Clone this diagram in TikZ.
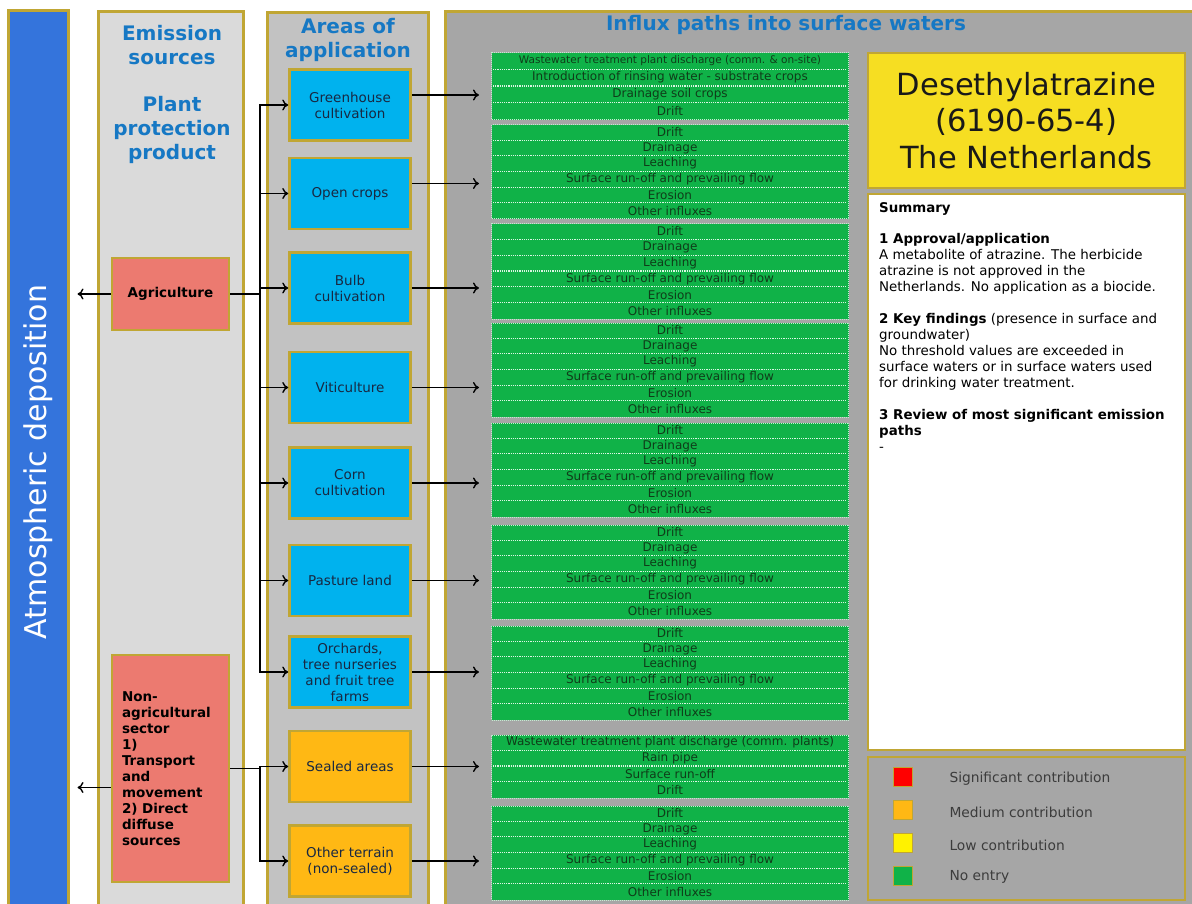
\documentclass[tikz,border=0pt]{standalone}
\usepackage{fontspec}
\setmainfont{DejaVu Sans}
\usetikzlibrary{calc,positioning,arrows.meta}

\definecolor{frame}{RGB}{192,166,52}
\definecolor{atmblue}{RGB}{52,116,220}
\definecolor{headblue}{RGB}{22,120,196}
\definecolor{srcgray}{RGB}{218,218,218}
\definecolor{appgray}{RGB}{194,194,194}
\definecolor{fluxgray}{RGB}{166,166,166}
\definecolor{salmon}{RGB}{236,122,112}
\definecolor{cropblue}{RGB}{0,178,238}
\definecolor{sealorange}{RGB}{255,184,20}
\definecolor{noentry}{RGB}{16,178,72}
\definecolor{titleyellow}{RGB}{246,222,34}
\definecolor{navytext}{RGB}{24,40,66}
\definecolor{rowtext}{RGB}{15,60,25}
\definecolor{legtext}{RGB}{60,60,60}

\tikzset{
lane/.style={draw=frame, line width=3pt, minimum height=900}, % the tall background columns
headtxt/.style={text=headblue, align=center, font=\bfseries\fontsize{20}{24}\selectfont},
source/.style={draw=frame, line width=2.5pt, fill=salmon, minimum width=117, font=\bfseries\fontsize{13.5}{16}\selectfont},
areabox/.style={draw=frame, line width=2.5pt, minimum width=121, minimum height=71, align=center, text=navytext, font=\fontsize{13.5}{16}\selectfont},
flowbox/.style={fill=noentry, draw=white!75!noentry, densely dotted, line width=1pt, minimum width=357},
flowtext/.style={text=rowtext, inner sep=0pt, font=\fontsize{12}{13}\selectfont},
rowsep/.style={white!85!noentry, densely dotted, line width=1.2pt},
link/.style={line width=1.4pt},
legsq/.style={draw=frame, line width=1.5pt, minimum size=19, inner sep=0pt},
legtxt/.style={text=legtext, anchor=west, font=\fontsize{13.8}{15}\selectfont},
}

% rows of influx paths
\def\glasspaths{{\fontsize{10.5}{11}\selectfont Wastewater treatment plant discharge (comm. \& on-site)},Introduction of rinsing water - substrate crops,Drainage soil crops,Drift}
\def\landpaths{Drift,Drainage,Leaching,Surface run-off and prevailing flow,Erosion,Other influxes}
\def\sealedpaths{Wastewater treatment plant discharge (comm. plants),Rain pipe,Surface run-off,Drift}

% name, centre y, height, number of rows, rows
\newcommand{\influx}[5]{%
  \node[flowbox, minimum height=#3] (#1) at (670,#2) {};
  \foreach \lbl [count=\i] in #5 {
    \pgfmathsetmacro{\rowh}{#3/#4}
    \ifnum\i>1
      \draw[rowsep] ($(#1.north west)+(2,{(\i-1)*\rowh})$) -- ($(#1.north east)+(-2,{(\i-1)*\rowh})$);
    \fi
    \node[flowtext] at ($(#1.north)+(0,{(\i-0.5)*\rowh})$) {\lbl};
  }
}

\begin{document}
\begin{tikzpicture}[x=1pt,y=-1pt,>={To[length=6pt,width=11pt]}]
    \useasboundingbox (0,0) rectangle (1192,904);
    \clip (0,0) rectangle (1192,904);
    \fill[white] (0,0) rectangle (1192,904);

    % columns
    \node[lane, fill=atmblue, minimum width=60] (atm) at (38,461) {};
    \node[rotate=90, text=white, font=\fontsize{30}{32}\selectfont] (atmtxt) at (38,462) {Atmospheric deposition};
    \node[lane, fill=srcgray, minimum width=145] (src) at (170.5,462) {};
    \node[lane, fill=appgray, minimum width=161] (app) at (347.5,463) {};
    \node[lane, fill=fluxgray, minimum width=755] (flux) at (822.5,462) {};

    \node[headtxt] (srchead) at (172,45) {Emission\\sources};
    \node[headtxt] (ppp) at (172,130) {Plant\\protection\\product};
    \node[headtxt] (apphead) at (348,40) {Areas of\\application};
    \node[headtxt] (fluxhead) at (786,25) {Influx paths into surface waters};

    % emission sources
    \node[source, minimum height=72] (agri) at (170.5,294) {Agriculture};
    \node[source, minimum height=227, text width=97, inner xsep=10, align=left, font=\bfseries\fontsize{13.5}{16}\selectfont] (nonagri) at (170.5,768.5)
        {Non-\\agricultural\\sector\\1)\\Transport\\and\\movement\\2) Direct\\diffuse\\sources};

    % areas of application
    \node[areabox, fill=cropblue] (gh) at (350,105) {Greenhouse\\cultivation};
    \node[areabox, fill=cropblue] (oc) at (350,193.5) {Open crops};
    \node[areabox, fill=cropblue] (bu) at (350,288) {Bulb\\cultivation};
    \node[areabox, fill=cropblue] (vi) at (350,387.5) {Viticulture};
    \node[areabox, fill=cropblue] (co) at (350,483) {Corn\\cultivation};
    \node[areabox, fill=cropblue] (pa) at (350,580.5) {Pasture land};
    \node[areabox, fill=cropblue] (or) at (350,672) {Orchards,\\tree nurseries\\and fruit tree\\farms};
    \node[areabox, fill=sealorange] (se) at (350,766.5) {Sealed areas};
    \node[areabox, fill=sealorange] (ot) at (350,861) {Other terrain\\(non-sealed)};

    % influx paths
    \influx{g1}{86.5}{67}{4}{\glasspaths}
    \influx{g2}{172}{94}{6}{\landpaths}
    \influx{g3}{271.5}{95}{6}{\landpaths}
    \influx{g4}{370}{94}{6}{\landpaths}
    \influx{g5}{470}{94}{6}{\landpaths}
    \influx{g6}{572}{94}{6}{\landpaths}
    \influx{g7}{673}{94}{6}{\landpaths}
    \influx{g8}{766.5}{63}{4}{\sealedpaths}
    \influx{g9}{853}{94}{6}{\landpaths}

    % substance, summary and legend
    \node[draw=frame, line width=2.5pt, fill=titleyellow, minimum width=317, minimum height=135, align=center,
          text=black!90, font=\fontsize{30.5}{36.5}\selectfont] (title) at (1026.5,120.5)
        {Desethylatrazine\\(6190-65-4)\\The Netherlands};
    \node[draw=frame, line width=2pt, fill=white, minimum width=317, minimum height=556] (summary) at (1026.5,472) {};
    \node[anchor=north west, inner sep=0pt, align=left, font=\fontsize{13.4}{16}\selectfont] (sumtxt) at (879,202) {%
        \textbf{Summary}\\[15pt]
        \textbf{1 Approval/application}\\
        A metabolite of atrazine. The herbicide\\
        atrazine is not approved in the\\
        Netherlands. No application as a biocide.\\[16pt]
        \textbf{2 Key findings} (presence in surface and\\
        groundwater)\\
        No threshold values are exceeded in\\
        surface waters or in surface waters used\\
        for drinking water treatment.\\[16pt]
        \textbf{3 Review of most significant emission}\\
        \textbf{paths}\\
        -};
    \node[draw=frame, line width=2pt, fill=fluxgray, minimum width=317, minimum height=143] (legend) at (1026.5,828.5) {};
    \node[legsq, fill=red] (leg1) at (903,777) {};
    \node[legsq, fill=sealorange] (leg2) at (903,810) {};
    \node[legsq, fill=yellow] (leg3) at (903,843) {};
    \node[legsq, fill=noentry] (leg4) at (903,876) {};
    \node[legtxt] (legtxt1) at (946,779) {Significant contribution};
    \node[legtxt] (legtxt2) at (946,812) {Medium contribution};
    \node[legtxt] (legtxt3) at (946,845) {Low contribution};
    \node[legtxt] (legtxt4) at (946,877) {No entry};

    % connectors
    \coordinate (trunk) at (260,0);
    \foreach \b in {gh,oc,bu,vi,co,pa,or}
        \draw[link,->] (agri.east) -| (trunk |- \b.west) -- (\b.west);
    \foreach \b in {se,ot}
        \draw[link,->] (nonagri.east) -| (trunk |- \b.west) -- (\b.west);
    \draw[link,->,shorten >=8pt] (agri.west) -- (agri.west -| atm.east);
    \path (nonagri.west) ++(0,19) coordinate (nalow);
    \draw[link,->,shorten >=8pt] (nalow) -- (nalow -| atm.east);
    \foreach \b/\g/\dy in {gh/g1/-10,oc/g2/-10,bu/g3/0,vi/g4/0,co/g5/0,pa/g6/0,or/g7/0,se/g8/0,ot/g9/0} {
        \path (\b.east) ++(0,\dy) coordinate (out);
        \draw[link,->,shorten >=12pt] (out) -- (out -| \g.west);
    }
\end{tikzpicture}
\end{document}
